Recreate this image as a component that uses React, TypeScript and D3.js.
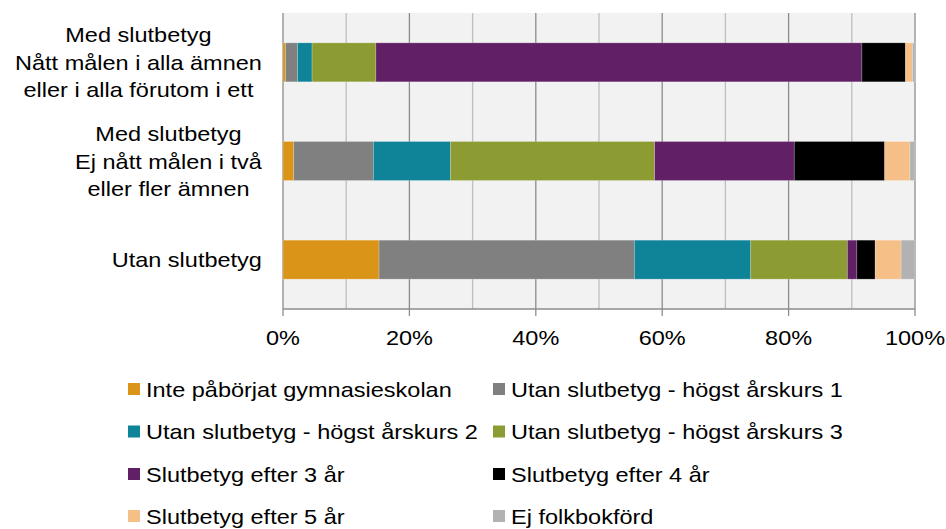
import React, { useEffect, useRef } from "react";
import * as d3 from "d3";

const categories = [
  "Med slutbetyg\nNått målen i alla ämnen\neller i alla förutom i ett",
  "Med slutbetyg\nEj nått målen i två\neller fler ämnen",
  "Utan slutbetyg",
];
const seriesNames = [
  "Inte påbörjat gymnasieskolan",
  "Utan slutbetyg - högst årskurs 1",
  "Utan slutbetyg - högst årskurs 2",
  "Utan slutbetyg - högst årskurs 3",
  "Slutbetyg efter 3 år",
  "Slutbetyg efter 4 år",
  "Slutbetyg efter 5 år",
  "Ej folkbokförd",
];
const intePaborjat = [0.4, 1.7, 15.2];
const hogstAk1 = [1.9, 12.6, 40.4];
const hogstAk2 = [2.3, 12.2, 18.4];
const hogstAk3 = [10.1, 32.3, 15.3];
const efter3 = [76.9, 22.1, 1.5];
const efter4 = [6.9, 14.3, 2.9];
const efter5 = [1.1, 4.0, 4.1];
const ejFolkbokford = [0.4, 0.8, 2.2];
const seriesValues = [intePaborjat, hogstAk1, hogstAk2, hogstAk3, efter3, efter4, efter5, ejFolkbokford];
const colors = ["#DA9418", "#808080", "#0F8499", "#8D9C32", "#612066", "#000000", "#F7BF88", "#B2B2B2"];
const xTicks = [0, 0.2, 0.4, 0.6, 0.8, 1];
const minorTicks = [0.1, 0.3, 0.5, 0.7, 0.9];

const FONT = "Arial, 'Liberation Sans', sans-serif";
const FS = 21;
const SX = 1.12;

export default function App() {
  const ref = useRef<SVGSVGElement>(null);
  useEffect(() => {
    document.body.style.margin = "0";
    const svg = d3.select(ref.current);
    svg.selectAll("*").remove();
    const left = 283, right = 915, top = 13, bottom = 309;
    const x = d3.scaleLinear().domain([0, 1]).range([left, right]);
    const y = d3.scaleBand<string>().domain(categories).range([top, bottom]).paddingInner(0.605).paddingOuter(0.3025);

    const rows = categories.map((c, i) => {
      const r: any = { cat: c };
      seriesNames.forEach((s, j) => (r[s] = seriesValues[j][i]));
      return r;
    });
    const stacked = d3.stack<any>().keys(seriesNames).offset(d3.stackOffsetExpand)(rows);

    svg.append("rect").attr("x", left).attr("y", top).attr("width", right - left).attr("height", bottom - top).attr("fill", "#F2F2F2");

    svg.selectAll(".minor").data(minorTicks).enter().append("line")
      .attr("x1", (d) => x(d)).attr("x2", (d) => x(d)).attr("y1", top).attr("y2", bottom)
      .attr("stroke", "#BEBEBE").attr("stroke-width", 1.3);
    svg.selectAll(".major").data(xTicks).enter().append("line")
      .attr("x1", (d) => x(d)).attr("x2", (d) => x(d)).attr("y1", top).attr("y2", bottom)
      .attr("stroke", "#8C8C8C").attr("stroke-width", 1.3);

    const g = svg.append("g");
    stacked.forEach((layer, j) => {
      g.selectAll(null).data(layer).enter().append("rect")
        .attr("x", (d) => x(d[0]))
        .attr("width", (d) => Math.max(0, x(d[1]) - x(d[0])))
        .attr("y", (d) => y(d.data.cat)!)
        .attr("height", y.bandwidth())
        .attr("fill", colors[j])
        .attr("stroke", "rgba(255,255,255,0.25)")
        .attr("stroke-width", 0.8);
    });

    // axis
    svg.append("line").attr("x1", left).attr("x2", right).attr("y1", bottom).attr("y2", bottom).attr("stroke", "#8C8C8C").attr("stroke-width", 1.3);
    svg.selectAll(".tick").data(xTicks).enter().append("line")
      .attr("x1", (d) => x(d)).attr("x2", (d) => x(d)).attr("y1", bottom).attr("y2", bottom + 7)
      .attr("stroke", "#8C8C8C").attr("stroke-width", 1.3);
    const fmt = d3.format(".0%");
    svg.selectAll(".tl").data(xTicks).enter().append("text")
      .attr("transform", (d) => `translate(${x(d)},345) scale(${SX},1)`)
      .attr("text-anchor", "middle").attr("font-family", FONT).attr("font-size", FS).attr("fill", "#000")
      .text((d) => fmt(d));

    // category labels
    const lh = 27.5;
    categories.forEach((c) => {
      const lines = c.split("\n");
      const cy = y(c)! + y.bandwidth() / 2;
      const grp = svg.append("g");
      const texts = lines.map((ln, k) =>
        grp.append("text")
          .attr("font-family", FONT).attr("font-size", FS).attr("fill", "#000")
          .attr("text-anchor", "middle")
          .attr("data-y", cy + 7.5 + (k - (lines.length - 1) / 2) * lh)
          .text(ln)
      );
      const maxW = d3.max(texts, (t) => (t.node() as SVGTextElement).getComputedTextLength())! * SX;
      const cx = 262 - maxW / 2;
      texts.forEach((t) => t.attr("transform", `translate(${cx},${t.attr("data-y")}) scale(${SX},1)`));
    });

    // legend
    const colX = [128, 493];
    const rowY = [389, 431.5, 474, 516];
    seriesNames.forEach((s, i) => {
      const cx = colX[i % 2];
      const cy = rowY[Math.floor(i / 2)];
      svg.append("rect").attr("x", cx).attr("y", cy - 6).attr("width", 12).attr("height", 12).attr("fill", colors[i]);
      svg.append("text")
        .attr("transform", `translate(${cx + 18},${cy + 7.5}) scale(${SX},1)`)
        .attr("font-family", FONT).attr("font-size", FS).attr("fill", "#000")
        .text(s);
    });
  }, []);
  return <svg ref={ref} width={946} height={529} style={{ position: "absolute", left: 0, top: 0, background: "#fff" }} />;
}
